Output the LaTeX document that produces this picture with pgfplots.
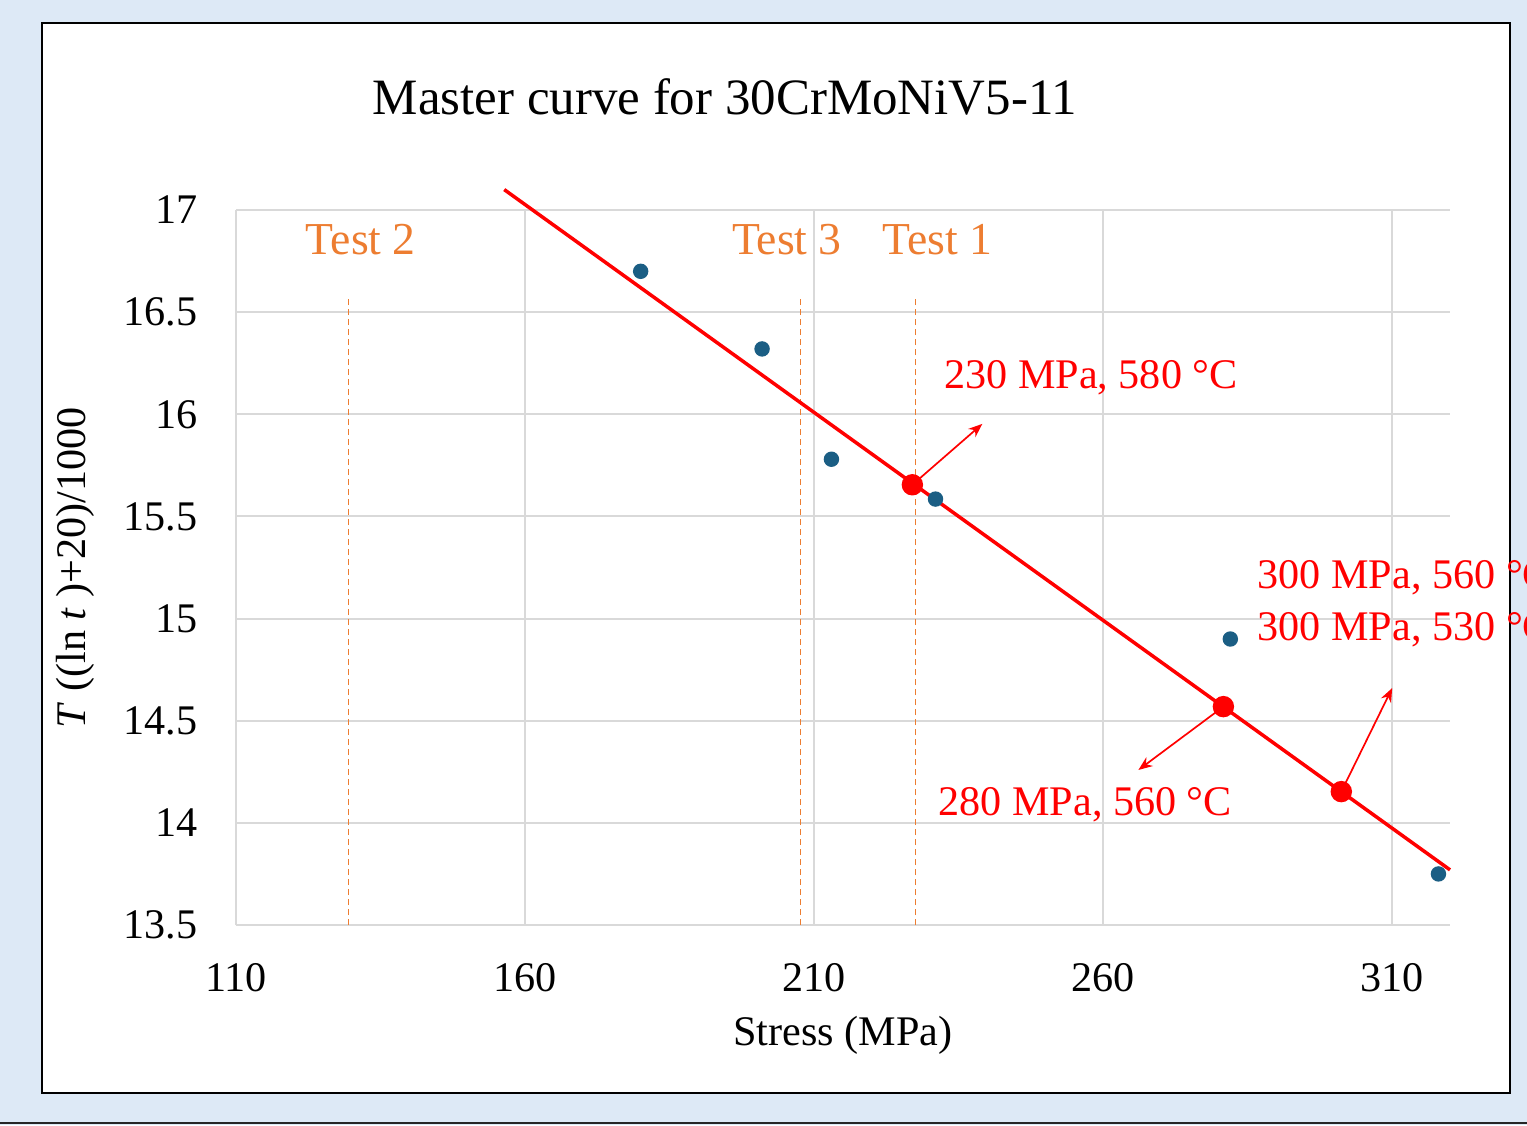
\documentclass[border=0pt]{standalone}
\usepackage{fontspec}
\setmainfont{Liberation Serif}
\usepackage{pgfplots}
\pgfplotsset{compat=1.18}
\usetikzlibrary{arrows.meta}
\definecolor{pagebg}{HTML}{DDE9F6}
\definecolor{dotblue}{HTML}{1B5E84}
\definecolor{testorange}{HTML}{ED7D31}
\definecolor{gridgray}{HTML}{D9D9D9}

\begin{document}
\begin{tikzpicture}
\useasboundingbox (0,0) rectangle (15.27,11.25);
\clip (0,0) rectangle (15.27,11.25);
\fill[pagebg] (0,0) rectangle (15.27,11.25);
\draw[black!85, line width=0.2mm] (0,0.02) -- (15.27,0.02);
\filldraw[fill=white, draw=black, line width=0.2mm] (0.42,0.32) rectangle (15.10,11.02);
\begin{axis}[
    at={(2.36cm,2.0cm)}, anchor=south west,
    scale only axis, width=12.14cm, height=7.15cm,
    xmin=110, xmax=320, ymin=13.5, ymax=17,
    xtick={110,160,210,260,310},
    ytick={13.5,14,14.5,15,15.5,16,16.5,17},
    major tick length=0pt,
    grid=major,
    grid style={draw=gridgray, line width=0.2mm},
    axis x line*=bottom, axis y line*=left,
    axis line style={draw=gridgray, line width=0.2mm},
    tick label style={font=\fontsize{12}{14}\selectfont, inner sep=0pt},
    /pgf/number format/assume math mode=true,
    xticklabel style={anchor=north, yshift=-3.8mm},
    yticklabel style={anchor=east, xshift=-3.8mm},
    clip=false,
    title={Master curve for 30CrMoNiV5-11},
    title style={font=\fontsize{14.5}{17}\selectfont, at={(axis description cs:0.4028,1.1286)}, anchor=center},
    xlabel={Stress (MPa)},
    xlabel style={font=\fontsize{12}{14}\selectfont, at={(axis description cs:0.5,-0.155)}, anchor=center},
    ylabel={\textit{T} ((ln \textit{t} )+20)/1000},
    ylabel style={font=\fontsize{12}{14}\selectfont, at={(axis description cs:-0.1326,0.5)}, anchor=center},
]
% test stress levels
\addplot[testorange, line width=0.12mm, dash pattern=on 0.6mm off 0.4mm, forget plot] coordinates {(129.4,13.5) (129.4,16.58)};
\addplot[testorange, line width=0.12mm, dash pattern=on 0.6mm off 0.4mm, forget plot] coordinates {(207.6,13.5) (207.6,16.58)};
\addplot[testorange, line width=0.12mm, dash pattern=on 0.6mm off 0.4mm, forget plot] coordinates {(227.5,13.5) (227.5,16.58)};
% measured points
\addplot[only marks, mark=*, mark size=0.7mm, dotblue] coordinates {
    (180,16.70) (201,16.32) (213,15.78) (231,15.585) (282,14.90) (318,13.75)
};
% master curve
\addplot[red, line width=0.35mm] coordinates {(156.4,17.10) (320,13.77)};
\addplot[only marks, mark=*, mark size=1mm, red] coordinates {
    (227,15.655) (280.8,14.569) (301.2,14.153)
};
\node[testorange, font=\fontsize{13}{15}\selectfont] at (axis cs:131.6,16.853) {Test 2};
\node[testorange, font=\fontsize{13}{15}\selectfont] at (axis cs:205.3,16.853) {Test 3};
\node[testorange, font=\fontsize{13}{15}\selectfont] at (axis cs:231.3,16.853) {Test 1};
\draw[red, line width=0.17mm, -{Stealth[length=1.4mm, width=1.1mm]}] (axis cs:227,15.655) -- (axis cs:239.1,15.953);
\draw[red, line width=0.17mm, -{Stealth[length=1.4mm, width=1.1mm]}] (axis cs:280.8,14.569) -- (axis cs:266.1,14.259);
\draw[red, line width=0.17mm, -{Stealth[length=1.4mm, width=1.1mm]}] (axis cs:301.2,14.153) -- (axis cs:310.0,14.660);
\node[red, font=\fontsize{12}{14}\selectfont] at (axis cs:257.9,16.178) {230 MPa, 580 °C};
\node[red, font=\fontsize{12}{14}\selectfont] at (axis cs:256.9,14.088) {280 MPa, 560 °C};
\node[red, font=\fontsize{12}{14}\selectfont, anchor=west, inner sep=0pt] at (axis cs:286.6,15.199) {300 MPa, 560 °C};
\node[red, font=\fontsize{12}{14}\selectfont, anchor=west, inner sep=0pt] at (axis cs:286.6,14.944) {300 MPa, 530 °C};
\end{axis}
\end{tikzpicture}
\end{document}
